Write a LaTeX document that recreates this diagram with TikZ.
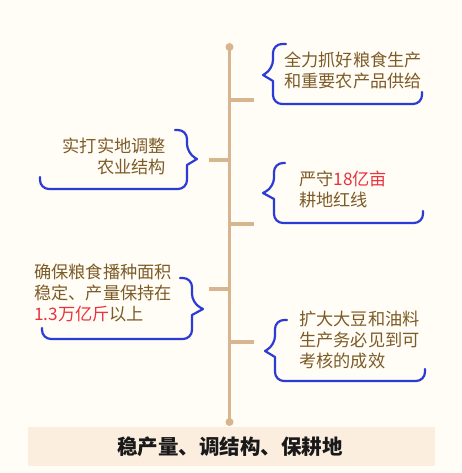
\documentclass[tikz,border=0pt]{standalone}
\usepackage{fontspec}
\setmainfont{Noto Sans CJK SC}
\usetikzlibrary{positioning}
\definecolor{bgcream}{HTML}{FFFDF5}
\definecolor{spinetan}{HTML}{D6B58F}
\definecolor{braceblue}{HTML}{2B3BD6}
\definecolor{textbrown}{HTML}{7D5B28}
\definecolor{hotred}{HTML}{E8333F}
\definecolor{bandbeige}{HTML}{FBEEDF}
\newcommand{\hl}[1]{\textcolor{hotred}{#1}}

\begin{document}
\begin{tikzpicture}[
    x=1pt, y=-1pt,
    spine/.style={draw=spinetan, line width=2.3pt},
    tick/.style={draw=spinetan, line width=4pt},
    brace/.style={
        draw=braceblue,
        line width=2.2pt,
        line cap=round,
        line join=round,
        rounded corners=9pt
    },
    item/.style={
        text=textbrown,
        font=\fontsize{17.2}{21}\selectfont,
        inner sep=0pt
    }
]

% ============================================================
% FONDO
% ============================================================
\fill[bgcream] (0,0) rectangle (462,473);
\useasboundingbox (0,0) rectangle (462,473);
\fill[bandbeige] (28,427) rectangle (435,466);

% ============================================================
% EJE
% ============================================================
\coordinate (top) at (229.5,47);
\coordinate (bottom) at (229.5,422);
\draw[spine] (top) -- (bottom);
\fill[spinetan] (top) circle (4);
\fill[spinetan] (bottom) circle (4);

\coordinate (t1) at (229.5,100);
\coordinate (t2) at (229.5,160);
\coordinate (t3) at (229.5,224);
\coordinate (t4) at (229.5,289);
\coordinate (t5) at (229.5,342);
\draw[tick] (t1) -- ++(24,0);
\draw[tick] (t2) -- ++(-21,0);
\draw[tick] (t3) -- ++(24,0);
\draw[tick] (t4) -- ++(-21,0);
\draw[tick] (t5) -- ++(24,0);

% ============================================================
% TEXTOS
% ============================================================
\node[item, anchor=west, align=left] (grain) at (284,70)
    {全力抓好粮食生产\\和重要农产品供给};
\node[item, anchor=east, align=right] (struct) at (166,156)
    {实打实地调整\\农业结构};
\node[item, anchor=west, align=left] (redline) at (299,189)
    {严守\hl{18亿亩}\\耕地红线};
\node[item, anchor=west, align=left] (output) at (34,293)
    {确保粮食播种面积\\稳定、产量保持在\\\hl{1.3万亿斤}以上};
\node[item, anchor=west, align=left] (soy) at (299,340)
    {扩大大豆和油料\\生产务必见到可\\考核的成效};

\node[font=\fontsize{20.5}{24}\selectfont\bfseries, text=black!90]
    (title) at (230,447) {稳产量、调结构、保耕地};

% ============================================================
% LLAVES
% ============================================================
\draw[brace] (286,44) -| (273,69) [sharp corners] -- (263,75) -- (273,81)
    [rounded corners=9pt] |- (422,104) -- (422,92);
\draw[brace] (175,130) -| (187,153) [sharp corners] -- (197,159) -- (187,165)
    [rounded corners=9pt] |- (40,189) -- (40,177);
\draw[brace] (285,163) -| (274,187) [sharp corners] -- (263,193) -- (274,199)
    [rounded corners=9pt] |- (423,223) -- (423,211);
\draw[brace] (180,278) -| (192,303) [sharp corners] -- (203,309) -- (192,315)
    [rounded corners=9pt] |- (42,339) -- (42,328);
\draw[brace] (287,320) -| (275,345) [sharp corners] -- (265,351) -- (275,357)
    [rounded corners=9pt] |- (425,381) -- (425,369);

\end{tikzpicture}
\end{document}
